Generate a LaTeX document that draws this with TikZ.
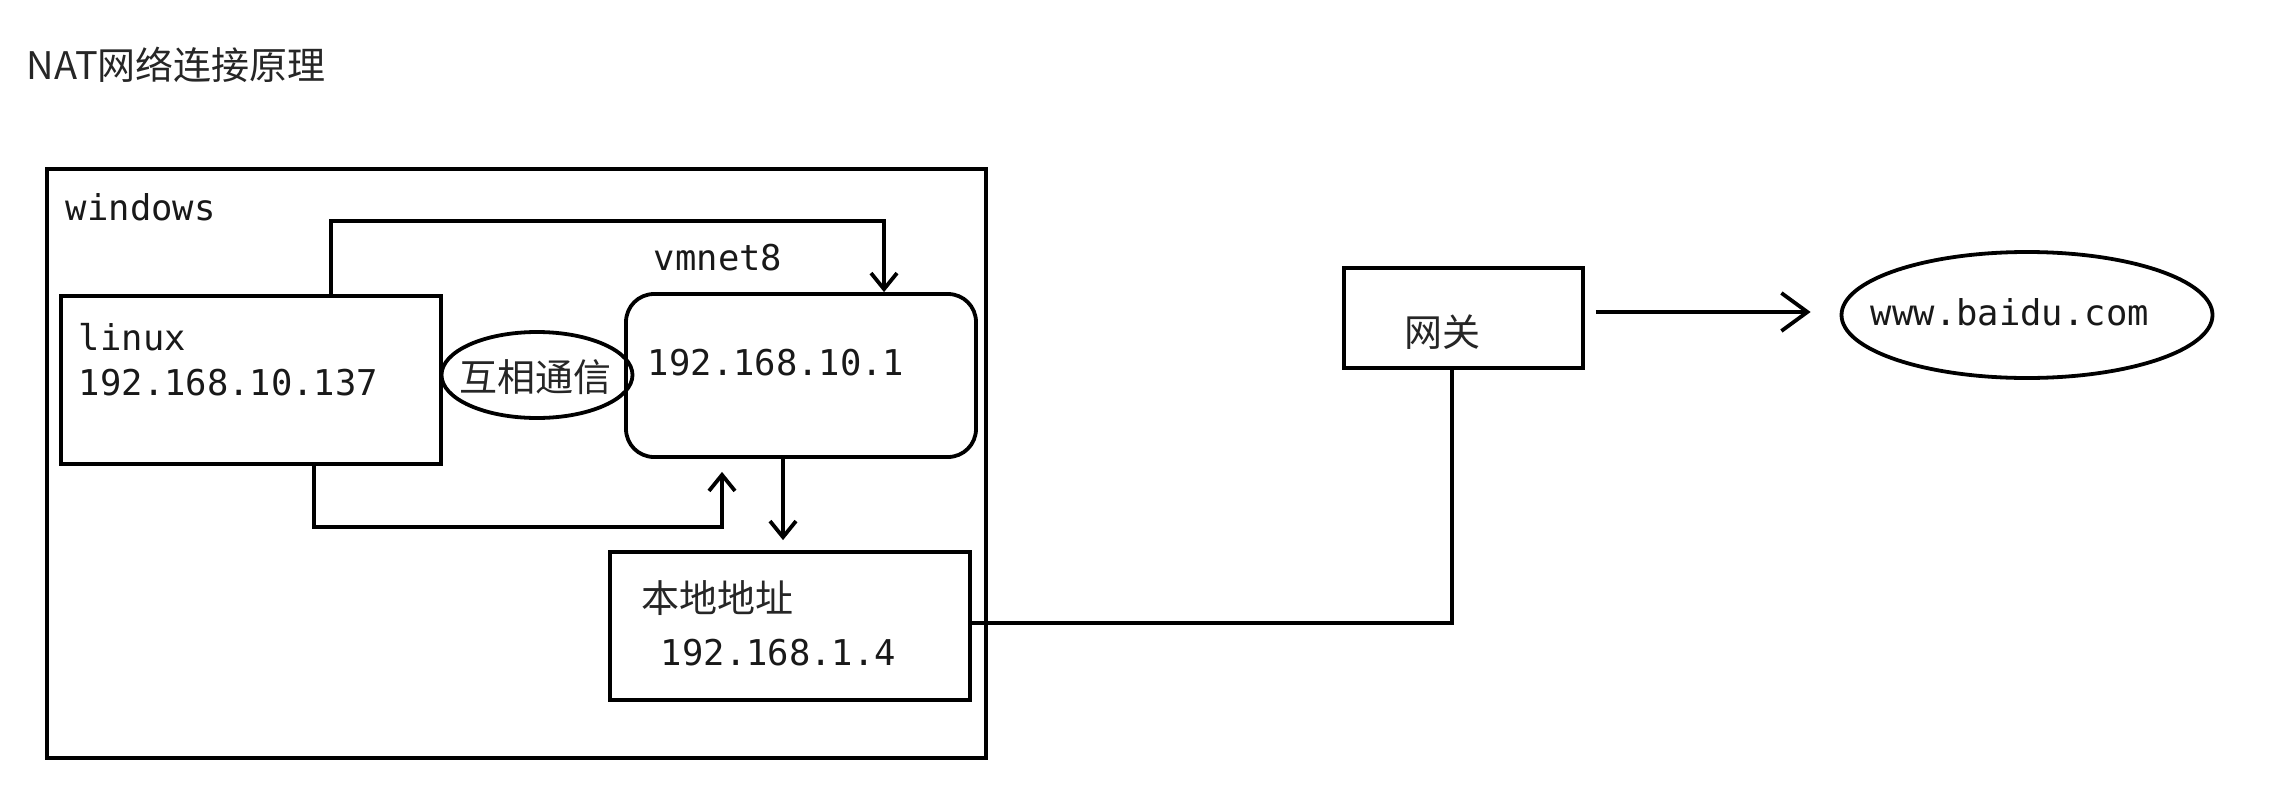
\documentclass[tikz,border=0pt]{standalone}
\usepackage{fontspec}
\setmonofont{DejaVu Sans Mono}
\newfontfamily\cjk{Noto Sans CJK SC}
\usetikzlibrary{shapes.geometric,arrows.meta}
\begin{document}
\begin{tikzpicture}[x=1pt,y=-1pt, line width=3.8pt,
 box/.style={draw, rectangle, inner sep=0pt},
 oval/.style={draw, ellipse, inner sep=0pt},
 mono/.style={font=\fontsize{35.5}{40}\selectfont\ttfamily, text=black!90, inner sep=0pt},
 han/.style={font=\fontsize{38}{44}\selectfont\cjk, text=black!85, inner sep=0pt},
 arr/.style={-{Straight Barb[length=16pt,width=26pt]}},
 bigarr/.style={-{Straight Barb[length=26pt,width=38pt]}}]
\fill[white] (0,0) rectangle (2286,808);
\useasboundingbox (0,0) rectangle (2286,808);

\node[han, anchor=west] (title) at (25,65) {NAT网络连接原理};

\node[box, minimum width=939pt, minimum height=589pt] (win) at (516.5,463.5) {};
\node[mono, anchor=base west] (wintext) at (64,220) {windows};

\node[box, minimum width=380pt, minimum height=168pt] (linux) at (251,380) {};
\node[mono, anchor=base west] (linuxname) at (77,350) {linux};
\node[mono, anchor=base west] (linuxip) at (77,395) {192.168.10.137};

\node[box, rounded corners=28pt, minimum width=350pt, minimum height=163pt] (vm) at (801,375.5) {};
\node[mono, anchor=base west] (vmname) at (652,270) {vmnet8};
\node[mono, anchor=base west] (vmip) at (646,375) {192.168.10.1};

\node[oval, minimum width=191pt, minimum height=86pt] (comm) at (537,375) {};
\node[han] (commtext) at (535,377) {互相通信};

\node[box, minimum width=360pt, minimum height=148pt] (local) at (790,626) {};
\node[han, anchor=west] (localname) at (640,598) {本地地址};
\node[mono, anchor=base west] (localip) at (659,665) {192.168.1.4};

\node[box, minimum width=239pt, minimum height=100pt] (gw) at (1463.5,318) {};
\node[han, anchor=west] (gwname) at (1403,332) {网关};

\node[oval, minimum width=371pt, minimum height=126pt] (baidu) at (2027,315) {};
\node[mono, anchor=base west] (baidutext) at (1869,325) {www.baidu.com};

\draw[arr] ([xshift=80pt]linux.north) -- ++(0,-73) -| ([xshift=83pt]vm.north);
\draw[arr] ([xshift=63pt]linux.south) -- ++(0,61) -| ([xshift=-79pt,yshift=-13pt]vm.south);
\draw[arr] ([xshift=-18pt]vm.south) -- ([xshift=-7pt,yshift=10pt]local.north);
\draw ([yshift=3pt]local.east) -| ([xshift=-11.5pt]gw.south);
\draw[bigarr] ([xshift=11pt,yshift=6pt]gw.east) -- ([xshift=-29pt,yshift=3pt]baidu.west);
\end{tikzpicture}
\end{document}
